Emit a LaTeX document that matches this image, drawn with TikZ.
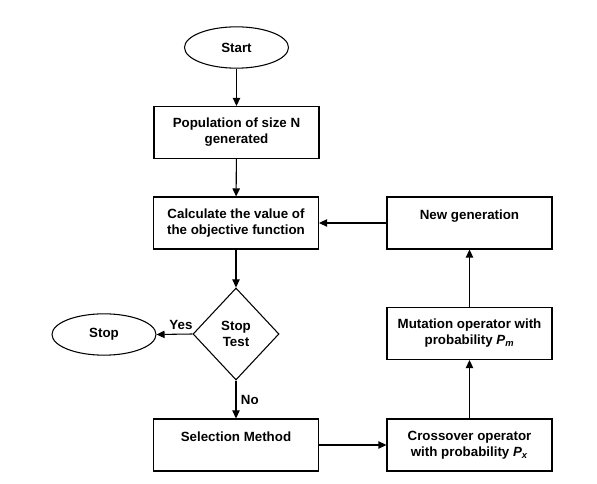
\documentclass[tikz,border=0pt]{standalone}
\usepackage{fontspec}
\setmainfont{Liberation Sans}
\usetikzlibrary{arrows.meta, shapes.geometric}

\begin{document}
\begin{tikzpicture}[x=0.75pt, y=-0.75pt, >={Triangle[length=6pt, width=5.5pt]},
  box/.style={draw, line width=0.8pt, minimum width=123.75pt, minimum height=39pt, align=center, font=\bfseries, inner sep=2pt},
  term/.style={draw, ellipse, line width=0.8pt, minimum width=78pt, minimum height=31pt, inner sep=1pt, font=\bfseries},
  decision/.style={draw, diamond, line width=0.8pt, minimum width=64.5pt, minimum height=69pt, inner sep=0pt, align=center, font=\bfseries},
  flow/.style={->, line width=0.8pt}]
  \useasboundingbox (0,0) rectangle (597,484);
  % Début / fin
  \node[term] (start) at (236.5,47.5) {Start};
  \node[term] (stop) at (104,334.5) {Stop};
  % Colonne de gauche
  \node[box] (pop) at (236.5,132.5) {Population of size N\\generated};
  \node[box] (calc) at (236,223) {Calculate the value of\\the objective function};
  \node[decision] (test) at (236,334) {Stop\\Test};
  \node[box] (sel) at (236,445) {Selection Method\\\mbox{}};
  % Colonne de droite (opérateurs génétiques)
  \node[box] (newgen) at (469.5,223) {New generation\\\mbox{}};
  \node[box] (mut) at (469.5,333.5) {Mutation operator with\\probability \textit{P}\textsubscript{\textit{m}}};
  \node[box] (cross) at (469.5,445) {Crossover operator\\with probability \textit{P}\textsubscript{\textit{x}}};
  % Liaisons
  \draw[flow] (start) -- (pop);
  \draw[flow] (pop) -- (calc);
  \draw[flow] (calc) -- (test);
  \draw[flow] (test.west) -- node[above, pos=0.32, font=\bfseries]{Yes} (stop.east);
  \draw[flow] (test.south) -- node[right, font=\bfseries]{No} (sel.north);
  \draw[flow] (sel.east) -- (cross.west);
  \draw[flow] (cross) -- (mut);
  \draw[flow] (mut) -- (newgen);
  \draw[flow] (newgen.west) -- (calc.east);
\end{tikzpicture}
\end{document}
